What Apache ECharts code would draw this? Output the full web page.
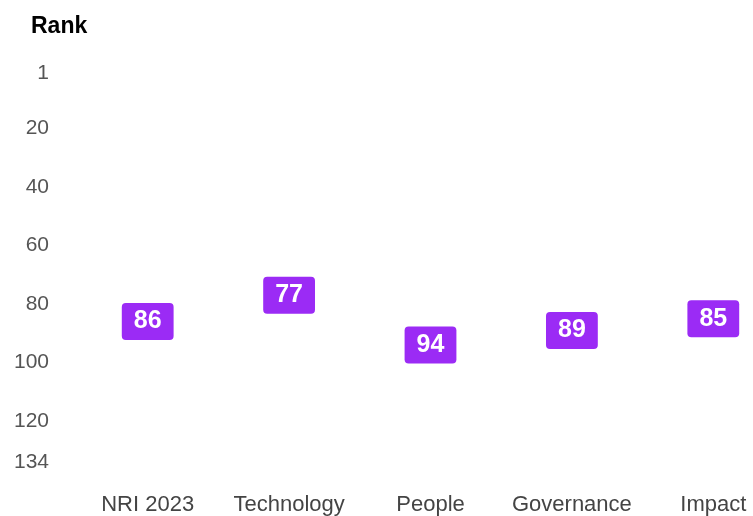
<!DOCTYPE html>
<html><head><meta charset="utf-8">
<script src="https://cdn.jsdelivr.net/npm/echarts@6/dist/echarts.min.js"></script>
<style>html,body{margin:0;padding:0;background:#fff}#c{width:753px;height:516px}</style>
</head><body><div id="c"></div>
<script>
const categories = ['NRI 2023', 'Technology', 'People', 'Governance', 'Impact'];
const ranks = [86, 77, 94, 89, 85];
const yTicks = [1, 20, 40, 60, 80, 100, 120, 134];
const rankMin = 1, rankMax = 134;

const chart = echarts.init(document.getElementById('c'));
chart.setOption({
  backgroundColor: '#fff',
  animation: false,
  title: {
    text: 'Rank', left: 26, top: 10,
    textStyle: { fontFamily: 'Liberation Sans, Arial', fontSize: 23, fontWeight: 'bold', color: '#000' }
  },
  grid: { left: 77, right: -31, top: 73, bottom: 54, outerBoundsMode: 'none', containLabel: false },
  xAxis: {
    type: 'category', data: categories, boundaryGap: true,
    axisLine: { show: false }, axisTick: { show: false },
    axisLabel: { interval: 0, margin: 32, fontSize: 22, color: '#444', fontFamily: 'Liberation Sans, Arial' }
  },
  yAxis: {
    type: 'value', inverse: true, min: rankMin, max: rankMax,
    axisLine: { show: false }, axisTick: { show: false }, splitLine: { show: false },
    axisLabel: { customValues: yTicks, margin: 28, fontSize: 21, color: '#555', fontFamily: 'Liberation Sans, Arial' }
  },
  series: [{
    type: 'scatter', data: ranks, symbolSize: 0,
    itemStyle: { opacity: 1 },
    label: {
      show: true, position: 'inside', formatter: '{c}',
      fontFamily: 'Liberation Sans, Arial', fontSize: 25, fontWeight: 'bold', color: '#fff',
      lineHeight: 27, padding: [5, 12], backgroundColor: '#9b2bf5', borderRadius: 4
    }
  }]
});
</script></body></html>
